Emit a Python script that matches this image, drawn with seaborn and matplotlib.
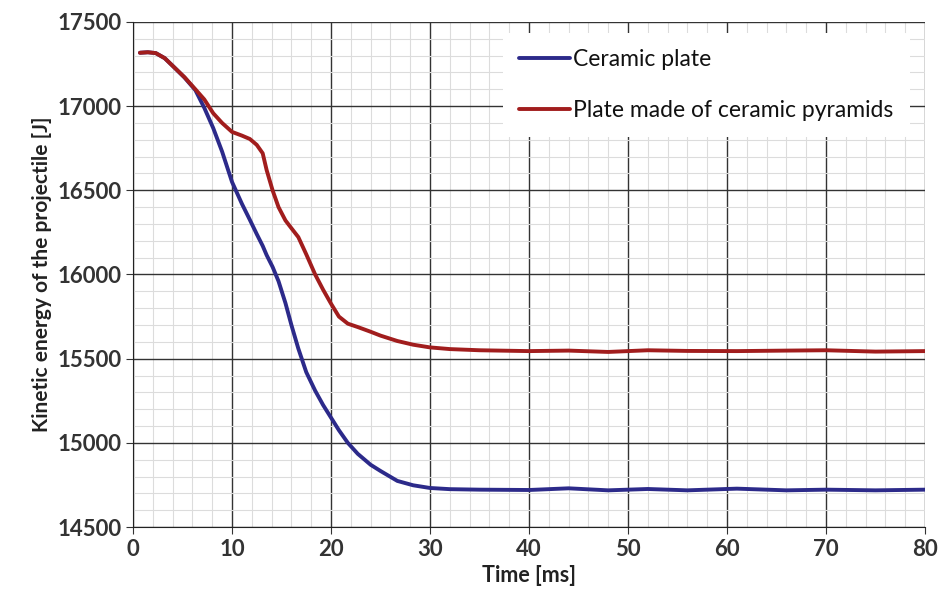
import numpy as np
import pandas as pd
import seaborn as sns
from matplotlib import pyplot as plt
from matplotlib.ticker import MultipleLocator

# values
time_ms = [0.7, 1.5, 2.3, 3.2, 4.1, 5.2, 6.3, 7.2, 8.1, 9.0, 10.0, 11.0, 11.8, 12.5,
           13.1, 13.5, 14.1, 14.7, 15.4, 16.0, 16.7, 17.5, 18.4, 19.2, 20.0, 20.8,
           21.7, 22.7, 24.0, 25.0, 26.7, 28.3, 30.0, 32.0, 35.0, 40.0, 44.0, 48.0,
           52.0, 56.0, 61.0, 66.0, 70.0, 75.0, 80.0]
ceramic_plate = [17317, 17320, 17315, 17285, 17234, 17170, 17095, 16990, 16870, 16730,
                 16550, 16420, 16325, 16240, 16170, 16115, 16045, 15960, 15830, 15700,
                 15560, 15420, 15310, 15225, 15150, 15075, 15000, 14935, 14870, 14833,
                 14774, 14748, 14732, 14725, 14722, 14720, 14730, 14718, 14726, 14718,
                 14728, 14718, 14722, 14718, 14722]
pyramid_plate = [17317, 17320, 17315, 17285, 17234, 17172, 17100, 17040, 16958, 16900,
                 16847, 16825, 16805, 16770, 16720, 16620, 16500, 16400, 16321, 16275,
                 16222, 16120, 16000, 15910, 15827, 15750, 15708, 15688, 15660, 15637,
                 15605, 15583, 15567, 15557, 15550, 15545, 15548, 15540, 15550, 15546,
                 15545, 15548, 15550, 15542, 15545]

series_names = ["Ceramic plate", "Plate made of ceramic pyramids"]

df = pd.concat([
    pd.DataFrame({"Time [ms]": time_ms, "energy": ceramic_plate, "series": series_names[0]}),
    pd.DataFrame({"Time [ms]": time_ms, "energy": pyramid_plate, "series": series_names[1]}),
])

sns.set_style("white")
plt.rcParams["font.family"] = ["Lato", "DejaVu Sans"]

fig = plt.figure(figsize=(9.4, 6.1), dpi=100)
ax = fig.add_axes([0.1415, 0.136, 0.8425, 0.828])

sns.lineplot(data=df, x="Time [ms]", y="energy", hue="series",
             palette=["#2c2a8a", "#a11d1d"], linewidth=2.8, ax=ax)

ax.set_xlim(0, 80)
ax.set_ylim(14500, 17500)
ax.xaxis.set_major_locator(MultipleLocator(10))
ax.xaxis.set_minor_locator(MultipleLocator(2))
ax.yaxis.set_major_locator(MultipleLocator(500))
ax.yaxis.set_minor_locator(MultipleLocator(100))
ax.grid(which="major", color="#333333", linewidth=1.0)
ax.grid(which="minor", color="#dcdcdc", linewidth=0.8)
ax.set_axisbelow(True)

for s in ["top", "right"]:
    ax.spines[s].set_visible(False)
ax.spines["left"].set_color("#222222")
ax.spines["bottom"].set_color("#222222")

ax.tick_params(axis="both", which="major", labelsize=16, colors="#333333",
               length=5, direction="out", left=True, bottom=True)
ax.tick_params(which="minor", length=0)
for lab in ax.get_xticklabels() + ax.get_yticklabels():
    lab.set_fontweight("bold")

ax.set_xlabel("Time [ms]", fontsize=15.5, fontweight="bold", color="#222222")
ax.set_ylabel("Kinetic energy of the projectile [J]", fontsize=15, fontweight="bold", color="#222222")

leg = ax.legend(title=None, loc="upper right", fontsize=16.5, handlelength=2.2,
                frameon=True, facecolor="white", edgecolor="none", framealpha=1,
                borderpad=0.7, labelspacing=1.3, handletextpad=0.15,
                bbox_to_anchor=(0.995, 1.0))
for t in leg.get_texts():
    t.set_color("#111111")

fig.savefig("out.png", dpi=100)
